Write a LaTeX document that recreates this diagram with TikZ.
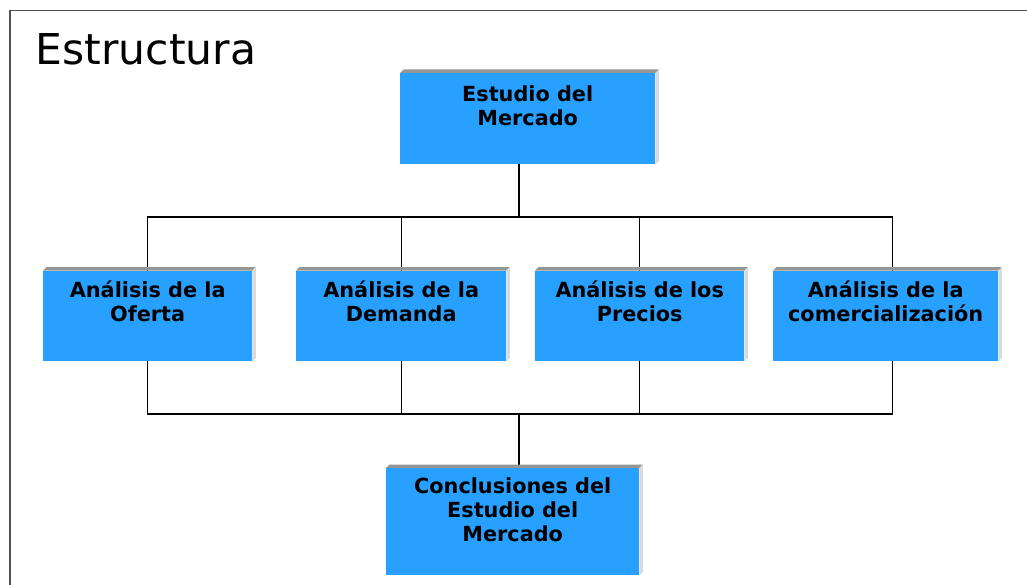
\documentclass[tikz,border=0pt]{standalone}
\usepackage{fontspec}
\setmainfont{DejaVu Sans}
\definecolor{boxblue}{RGB}{40,160,255}
\definecolor{bevtopc}{RGB}{150,150,150}
\definecolor{bevsidec}{RGB}{218,218,218}
\definecolor{framec}{RGB}{80,80,80}
\tikzset{
  box/.style={fill=boxblue, draw=none, inner sep=0pt, anchor=north west},
  boxtxt/.style={anchor=north, align=center, inner sep=0pt,
    font={\fontsize{20.8}{24}\selectfont\bfseries}},
  conn/.style={draw=black, line width=1.3pt},
  bevtop/.style={fill=bevtopc},
  bevside/.style={fill=bevsidec},
}
\newcommand{\bevelbox}[1]{%
  \fill[bevtop] (#1.north west) -- ([shift={(3.5,-3.5)}]#1.north west) -- ([shift={(3.5,-3.5)}]#1.north east) -- (#1.north east) -- cycle;
  \fill[bevside] (#1.north east) -- ([shift={(3.5,-3.5)}]#1.north east) -- ([shift={(3.5,-3.5)}]#1.south east) -- (#1.south east) -- cycle;
}
\begin{document}
\begin{tikzpicture}[x=1pt,y=-1pt]
\useasboundingbox (0,0) rectangle (1027,585);
\fill[white] (0,0) rectangle (1027,585);
% frame
\draw[framec, line width=1.5pt] (10,585) -- (10,10.5) -- (1027,10.5);
% title
\node[anchor=base west, inner sep=0pt, font={\fontsize{42.5}{50}\selectfont}] (title) at (35.5,65) {Estructura};
% boxes
\node[box, minimum width=255, minimum height=91,
  label={[boxtxt, yshift=-11]north:\rule{0pt}{17pt}Estudio del\\Mercado}] (top) at (400,73) {};
\node[box, minimum width=209, minimum height=90.5,
  label={[boxtxt, yshift=-9.5]north:\rule{0pt}{17pt}Análisis de la\\Oferta}] (oferta) at (43,270.5) {};
\node[box, minimum width=210, minimum height=90.5,
  label={[boxtxt, yshift=-9.5]north:\rule{0pt}{17pt}Análisis de la\\Demanda}] (demanda) at (296,270.5) {};
\node[box, minimum width=209, minimum height=90.5,
  label={[boxtxt, yshift=-9.5]north:\rule{0pt}{17pt}Análisis de los\\Precios}] (precios) at (535,270.5) {};
\node[box, minimum width=225, minimum height=90.5,
  label={[boxtxt, yshift=-9.5]north:\rule{0pt}{17pt}Análisis de la\\comercialización}] (comer) at (773,270.5) {};
\node[box, minimum width=253, minimum height=107,
  label={[boxtxt, yshift=-8]north:\rule{0pt}{17pt}Conclusiones del\\Estudio del\\Mercado}] (concl) at (386,468) {};
% connectors
\coordinate (jt) at (519,217);
\coordinate (jb) at (519,414);
\draw[conn] (top.south -| jt) -- (jt);
\draw[conn] (oferta.north) |- (jt) -| ([xshift=6.5]comer.north);
\draw[conn] (demanda.north) -- (demanda.north |- jt);
\draw[conn] (precios.north) -- (precios.north |- jt);
\draw[conn] (oferta.south) |- (jb) -| ([xshift=6.5]comer.south);
\draw[conn] (demanda.south) -- (demanda.south |- jb);
\draw[conn] (precios.south) -- (precios.south |- jb);
\draw[conn] (jb) -- (concl.north -| jb);
% bevels
\bevelbox{top}
\bevelbox{oferta}
\bevelbox{demanda}
\bevelbox{precios}
\bevelbox{comer}
\bevelbox{concl}
\end{tikzpicture}
\end{document}
